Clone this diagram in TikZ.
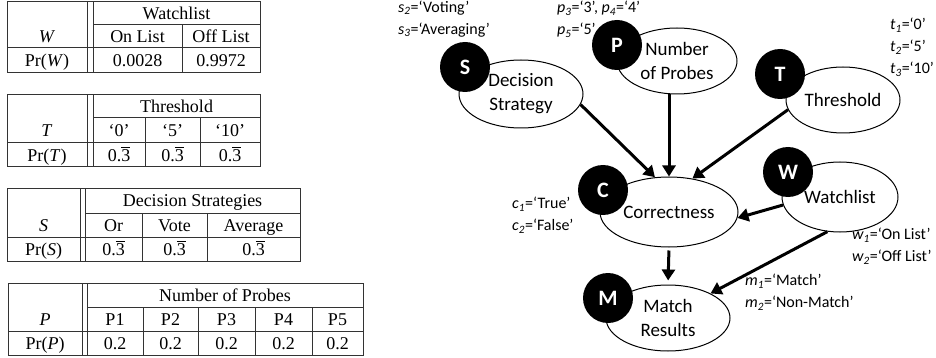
\documentclass[tikz,border=0pt]{standalone}
\usepackage{fontspec}
\setmainfont{Liberation Serif}
\newfontfamily\calibri[Ligatures=TeX]{Carlito}
\usetikzlibrary{shapes.geometric, arrows.meta, positioning}
\newcommand{\thirdbar}{0.$\overline{\mbox{3}}$}

\begin{document}
\begin{tikzpicture}[x=1pt, y=-1pt,
    tline/.style={draw=black!80, line width=1pt},
    cell/.style={inner sep=0pt, text height=12pt, text depth=0pt, font=\fontsize{18}{20}\selectfont},
    var/.style={draw, ellipse, line width=1pt, inner sep=0pt, align=center, font=\calibri\fontsize{19}{24}\selectfont},
    bubble/.style={circle, fill=black, text=white, minimum size=50pt, inner sep=0pt, font=\calibri\bfseries\fontsize{22}{22}\selectfont},
    vals/.style={anchor=west, inner sep=0pt, align=left, font=\calibri\fontsize{16}{22}\selectfont},
    arr/.style={-{Triangle[length=11pt,width=13pt]}, line width=3pt}]
    \useasboundingbox (0,0) rectangle (936,358);

    % Watchlist table
    \draw[tline] (7,2) rectangle (260,73);
    \draw[tline] (87,2) -- (87,73) (93,2) -- (93,73);
    \draw[tline] (93,25) -- (260,25) (7,48) -- (260,48) (182,25) -- (182,73);
    \node[cell] (wHead) at (176.5,13.5) {Watchlist};
    \node[cell] (wVar) at (47,36.5) {\textit{W}};
    \node[cell] (wOn) at (137.5,36.5) {On List};
    \node[cell] (wOff) at (221,36.5) {Off List};
    \node[cell] (wPr) at (47,60.5) {Pr(\textit{W})};
    \node[cell] (wOnP) at (137.5,60.5) {0.0028};
    \node[cell] (wOffP) at (221,60.5) {0.9972};

    % Threshold table
    \draw[tline] (7,95) rectangle (260,167);
    \draw[tline] (87,95) -- (87,167) (93,95) -- (93,167);
    \draw[tline] (93,118) -- (260,118) (7,143) -- (260,143) (145,118) -- (145,167) (200,118) -- (200,167);
    \node[cell] (tHead) at (176.5,106.5) {Threshold};
    \node[cell] (tVar) at (47,130.5) {\textit{T}};
    \node[cell] (tPr) at (47,155) {Pr(\textit{T})};
    \foreach \cx/\nm/\lab in {119/a/`0', 172.5/b/`5', 230/c/`10'} {
        \node[cell] (t\nm) at (\cx,130.5) {\lab};
        \node[cell] (tP\nm) at (\cx,155) {\thirdbar};
    }

    % Decision strategies table
    \draw[tline] (7,188) rectangle (300,261);
    \draw[tline] (80,188) -- (80,261) (85,188) -- (85,261);
    \draw[tline] (85,213) -- (300,213) (7,237) -- (300,237) (142,213) -- (142,261) (207,213) -- (207,261);
    \node[cell] (sHead) at (192.5,200.5) {Decision Strategies};
    \node[cell] (sVar) at (43.5,225) {\textit{S}};
    \node[cell] (sPr) at (43.5,249) {Pr(\textit{S})};
    \foreach \cx/\nm/\lab in {113.5/a/Or, 174.5/b/Vote, 253.5/c/Average} {
        \node[cell] (s\nm) at (\cx,225) {\lab};
        \node[cell] (sP\nm) at (\cx,249) {\thirdbar};
    }

    % Number of probes table
    \draw[tline] (8,283) rectangle (363,355);
    \draw[tline] (82,283) -- (82,355) (87,283) -- (87,355);
    \draw[tline] (87,307) -- (363,307) (8,331) -- (363,331);
    \foreach \cx in {143,198,255,312}
        \draw[tline] (\cx,307) -- (\cx,355);
    \node[cell] (pHead) at (225,295) {Number of Probes};
    \node[cell] (pVar) at (45,319) {\textit{P}};
    \node[cell] (pPr) at (45,343) {Pr(\textit{P})};
    \foreach \cx/\i in {115/1, 170.5/2, 226.5/3, 283.5/4, 337.5/5} {
        \node[cell] (p\i) at (\cx,319) {P\i};
        \node[cell] (pP\i) at (\cx,343) {0.2};
    }

    % Variables
    \node[var, minimum width=124pt, minimum height=68pt] (strat) at (521,94) {Decision\\Strategy};
    \node[var, minimum width=120pt, minimum height=66pt] (probes) at (677,61) {Number\\of Probes};
    \node[var, minimum width=114pt, minimum height=66pt] (thresh) at (843,100) {Threshold};
    \node[var, minimum width=138pt, minimum height=70pt] (corr) at (669,212) {Correctness};
    \node[var, minimum width=116pt, minimum height=70pt] (watch) at (840,197) {Watchlist};
    \node[var, minimum width=124pt, minimum height=66pt] (match) at (668,318) {Match\\Results};

    % Letters
    \node[bubble] (bS) at (465,67) {S};
    \node[bubble] (bP) at (617,45) {P};
    \node[bubble] (bT) at (780,74) {T};
    \node[bubble] (bC) at (603,190) {C};
    \node[bubble] (bW) at (788,172) {W};
    \node[bubble] (bM) at (608,298) {M};

    % Values
    \node[vals] (sVals) at (398,19) {\textit{s\textsubscript{2}}=`Voting'\\\textit{s\textsubscript{3}}=`Averaging'};
    \node[vals] (pVals) at (557,19) {\textit{p\textsubscript{3}}=`3', \textit{p\textsubscript{4}}=`4'\\\textit{p\textsubscript{5}}=`5'};
    \node[vals] (tVals) at (890,47.5) {\textit{t\textsubscript{1}}=`0'\\\textit{t\textsubscript{2}}=`5'\\\textit{t\textsubscript{3}}=`10'};
    \node[vals] (cVals) at (512,215) {\textit{c\textsubscript{1}}=`True'\\\textit{c\textsubscript{2}}=`False'};
    \node[vals] (wVals) at (852,246) {\textit{w\textsubscript{1}}=`On List'\\\textit{w\textsubscript{2}}=`Off List'};
    \node[vals] (mVals) at (745,292.5) {\textit{m\textsubscript{1}}=`Match'\\\textit{m\textsubscript{2}}=`Non-Match'};

    % Arrows
    \draw[arr] (strat.-10) -- (corr.112);
    \draw[arr] (probes.south -| corr.north) -- (corr.north);
    \draw[arr] (thresh.190) -- (corr.55);
    \draw[arr] (watch.188) -- (corr.-5);
    \draw[arr] (watch.250) -- (match.30);
    \draw[arr, shorten <=3pt, shorten >=4pt] (corr.south) -- (match.north);
\end{tikzpicture}
\end{document}
